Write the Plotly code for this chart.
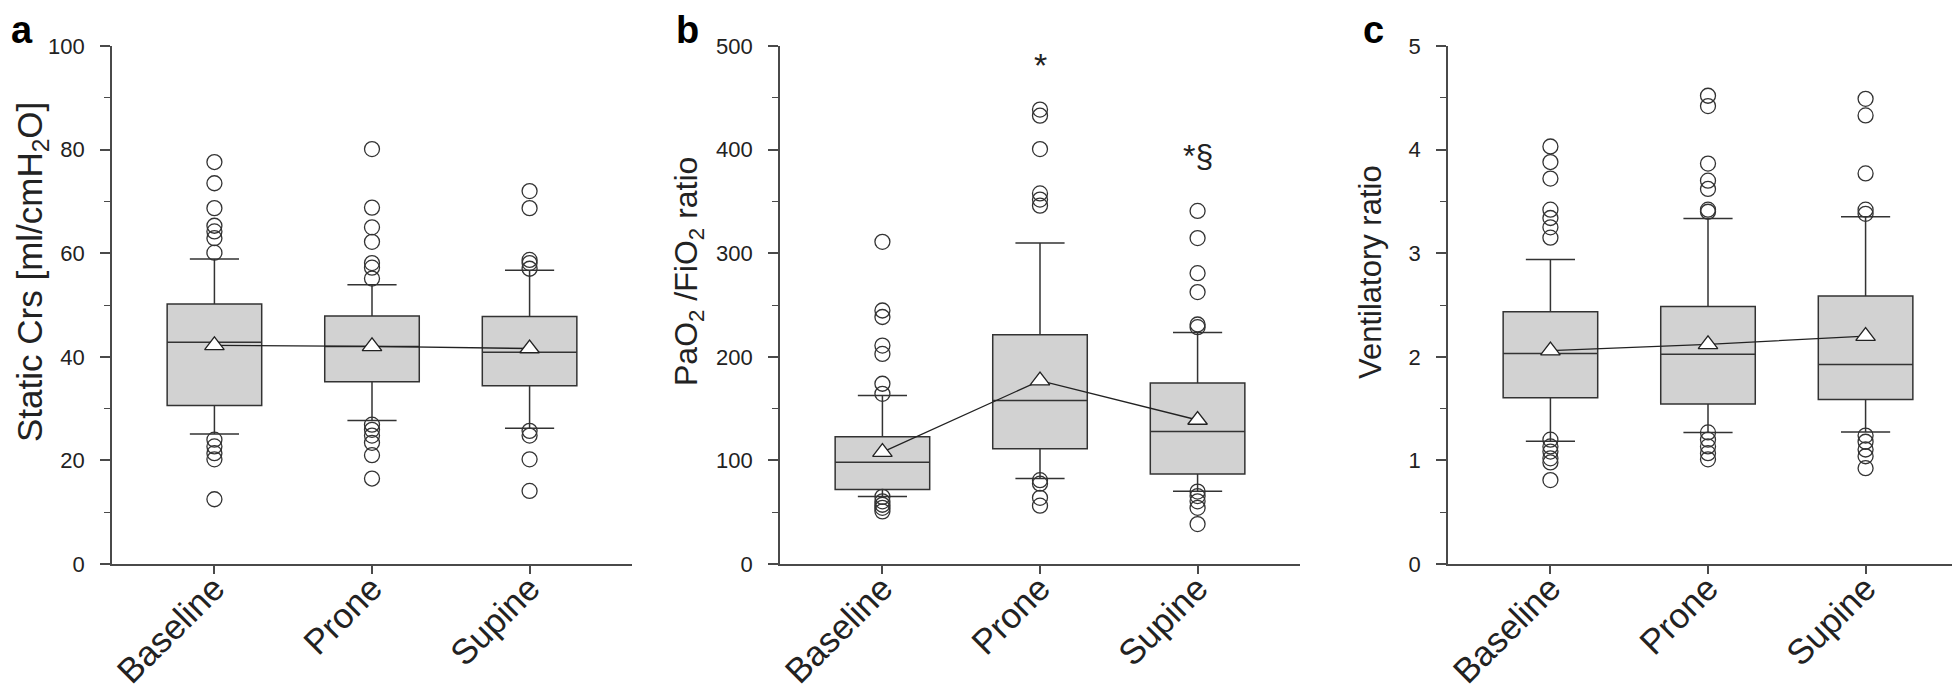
import plotly.graph_objects as go

categories = ["Baseline", "Prone", "Supine"]

# Panel a: Static Crs [ml/cmH2O]
a_q1 = [30.6, 35.2, 34.4]
a_median = [42.8, 42.0, 40.9]
a_q3 = [50.2, 47.9, 47.8]
a_lower = [25.1, 27.7, 26.2]
a_upper = [58.9, 53.9, 56.7]
a_mean = [42.2, 42.0, 41.6]
a_out_baseline = [77.6, 73.5, 68.7, 65.3, 64.2, 62.9, 60.1, 24.0, 22.7, 21.4, 20.2, 12.5]
a_out_prone = [80.1, 68.8, 65.0, 62.2, 58.1, 57.2, 55.1, 26.9, 25.9, 24.8, 23.4, 21.0, 16.5]
a_out_supine = [72.0, 68.7, 58.7, 58.1, 57.0, 25.7, 24.8, 20.2, 14.1]

# Panel b: PaO2/FiO2 ratio
b_q1 = [72.0, 111.3, 86.8]
b_median = [98.2, 157.9, 127.9]
b_q3 = [122.8, 221.4, 174.8]
b_lower = [65.2, 82.6, 70.3]
b_upper = [162.6, 309.9, 223.5]
b_mean = [108, 177, 139]
b_out_baseline = [311, 244.7, 238.4, 210.8, 202.8, 174.0, 164.3, 64.8, 60.5, 57.2, 54.2, 50.8]
b_out_prone = [438.6, 432.7, 400.5, 357.7, 351.8, 345.9, 80.9, 77.5, 63.9, 56.3]
b_out_supine = [340.8, 314.6, 280.7, 262.5, 231.2, 228.6, 69.9, 65.6, 60.5, 54.2, 38.5]

# Panel c: Ventilatory ratio
c_q1 = [1.605, 1.545, 1.588]
c_median = [2.032, 2.024, 1.926]
c_q3 = [2.434, 2.485, 2.587]
c_lower = [1.185, 1.270, 1.274]
c_upper = [2.938, 3.336, 3.353]
c_mean = [2.06, 2.12, 2.20]
c_out_baseline = [4.03, 3.88, 3.72, 3.42, 3.34, 3.25, 3.15, 1.20, 1.135, 1.085, 1.02, 0.98, 0.81]
c_out_prone = [4.52, 4.42, 3.865, 3.70, 3.62, 3.42, 3.40, 1.27, 1.20, 1.135, 1.07, 1.01]
c_out_supine = [4.49, 4.33, 3.77, 3.42, 3.38, 1.24, 1.18, 1.105, 1.04, 0.925]

y_titles = ["Static Crs [ml/cmH<sub>2</sub>O]", "PaO<sub>2</sub> /FiO<sub>2</sub> ratio", "Ventilatory ratio"]
panel_letters = ["a", "b", "c"]
y_ranges = [[0, 100], [0, 500], [0, 5]]
y_dticks = [20, 100, 1]

FONT = "Liberation Sans, Arial, sans-serif"
DARK = "#333333"
AXC = "#4a4a4a"

panels = [
    (a_q1, a_median, a_q3, a_lower, a_upper, a_mean, [a_out_baseline, a_out_prone, a_out_supine]),
    (b_q1, b_median, b_q3, b_lower, b_upper, b_mean, [b_out_baseline, b_out_prone, b_out_supine]),
    (c_q1, c_median, c_q3, c_lower, c_upper, c_mean, [c_out_baseline, c_out_prone, c_out_supine]),
]

fig = go.Figure()
for i, (q1, med, q3, lo, up, mean, outs) in enumerate(panels):
    xa = "x" if i == 0 else f"x{i+1}"
    ya = "y" if i == 0 else f"y{i+1}"
    fig.add_trace(go.Box(
        x=categories, q1=q1, median=med, q3=q3, lowerfence=lo, upperfence=up,
        fillcolor="#d2d2d2", line=dict(color=DARK, width=1.5),
        whiskerwidth=0.52, width=0.6, boxpoints=False, showlegend=False,
        xaxis=xa, yaxis=ya, hoverinfo="skip"))
    for cat, vals in zip(categories, outs):
        fig.add_trace(go.Scatter(
            x=[cat] * len(vals), y=vals, mode="markers",
            marker=dict(symbol="circle-open", size=15, color=DARK, line=dict(width=1.3, color=DARK)),
            showlegend=False, xaxis=xa, yaxis=ya))
    fig.add_trace(go.Scatter(
        x=categories, y=mean, mode="lines+markers",
        line=dict(color="#222222", width=1.3),
        marker=dict(symbol="triangle-up", size=17, color="white", line=dict(width=1.3, color="#222222")),
        showlegend=False, xaxis=xa, yaxis=ya))

W, H = 1960, 688
ML, MR, MT, MB = 104, 0, 38, 132
PW = W - ML - MR
PH = H - MT - MB

def px_x(p):
    return (p - ML) / PW

def px_y(p):
    return (H - MB - p) / PH

starts = [104, 772, 1440]
layout = dict(
    width=W, height=H, margin=dict(l=ML, r=MR, t=MT, b=MB, autoexpand=False),
    plot_bgcolor="white", paper_bgcolor="white",
    font=dict(family=FONT, color="#222222"),
)
for i in range(3):
    sfx = "" if i == 0 else str(i + 1)
    layout[f"xaxis{sfx}"] = dict(
        domain=[px_x(starts[i]), px_x(starts[i] + 520)],
        type="category", range=[-0.65, 2.65], anchor=f"y{sfx}",
        showline=True, linecolor=AXC, linewidth=1.6,
        ticks="outside", ticklen=8, tickwidth=1.6, tickcolor=AXC,
        tickangle=-45, tickfont=dict(size=35, family=FONT, color="#222222"),
        ticklabelstandoff=-20, automargin=False,
        showgrid=False, zeroline=False)
    layout[f"yaxis{sfx}"] = dict(
        domain=[0, 1], range=y_ranges[i], anchor=f"x{sfx}", dtick=y_dticks[i],
        showline=True, linecolor=AXC, linewidth=1.6,
        ticks="outside", ticklen=10, tickwidth=1.6, tickcolor=AXC,
        minor=dict(ticks="outside", ticklen=6, tickwidth=1.4, tickcolor=AXC, dtick=y_dticks[i] / 2),
        tickfont=dict(size=22, family=FONT, color="#222222"),
        ticklabelstandoff=11, automargin=False,
        showgrid=False, zeroline=False)

fig.update_layout(**layout)

title_x = [24, 680, 1362]
title_sizes = [35, 32, 31]
letter_x = [14, 679, 1365]
for i in range(3):
    fig.add_annotation(text=y_titles[i], xref="paper", yref="paper",
                       x=px_x(title_x[i]), y=px_y(264), textangle=-90,
                       xanchor="center", yanchor="middle", showarrow=False,
                       font=dict(size=title_sizes[i], family=FONT, color="#222222"))
    fig.add_annotation(text=f"<b>{panel_letters[i]}</b>", xref="paper", yref="paper",
                       x=px_x(letter_x[i]), y=px_y(22), xanchor="center", yanchor="middle",
                       showarrow=False, font=dict(size=38, family=FONT, color="black"))

fig.add_annotation(text="*", xref="x2", yref="y2", x="Prone", y=482, showarrow=False,
                   font=dict(size=34, family=FONT, color="#222222"))
fig.add_annotation(text="*§", xref="x2", yref="y2", x="Supine", y=394, showarrow=False,
                   font=dict(size=32, family=FONT, color="#222222"))

fig.write_html("out.html")
